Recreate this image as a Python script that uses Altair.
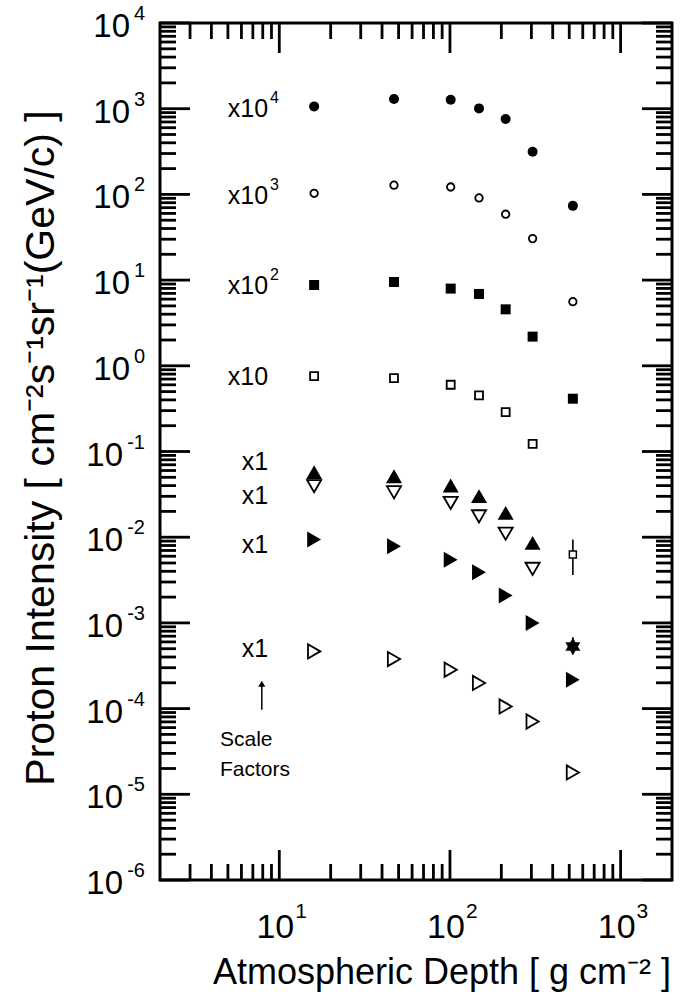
import altair as alt
import pandas as pd

# ---------------- data ----------------
depth = [16.0, 47.0, 101, 148, 212, 305, 525]

circ_filled = [1064, 1295, 1270, 1008, 757, 314, 73.5]          # x10^4
circ_open = [103, 128, 122, 91, 58.7, 30.5, 5.6]                # x10^3
sq_filled = [8.77, 9.5, 7.96, 6.89, 4.56, 2.19, 0.413]          # x10^2
sq_open = [0.759, 0.718, 0.601, 0.451, 0.288, 0.123]            # x10
tri_up_filled = [0.0573, 0.0515, 0.0401, 0.0301, 0.0192, 0.00857]
tri_down_open = [0.0394, 0.0335, 0.0251, 0.0175, 0.0110, 0.00427]
tri_right_filled = [0.00938, 0.00783, 0.00547, 0.00389, 0.00209, 0.000998, 0.000217]
tri_right_open = [0.000465, 0.000379, 0.000284, 0.000199, 0.000106, 7.07e-5, 1.8e-5]

extra_depth = [525]
extra_sq = [0.00627]
extra_sq_lo = [0.00363]
extra_sq_hi = [0.00938]
star_val = [0.00053]
star_lo = [0.00043]
star_hi = [0.00068]

# scale-factor annotations
sf_text = ["x10", "x10", "x10", "x10", "x1", "x1", "x1", "x1"]
sf_exp = ["4", "3", "2", "", "", "", "", ""]
sf_y = [1000, 95, 8.5, 0.75, 0.076, 0.030, 0.0082, 0.00049]
sf_x = 8.6
arrow_x = [7.9]
arrow_y0 = [9.7e-5]
arrow_y1 = [1.95e-4]
note_text = ["Scale", "Factors"]
note_y = [4.3e-5, 1.93e-5]
note_x = 4.49

# axis tick values / labels
y_lab_val = [1e4, 1e3, 1e2, 1e1, 1e0, 1e-1, 1e-2, 1e-3, 1e-4, 1e-5, 1e-6]
y_lab_exp = ["4", "3", "2", "1", "0", "-1", "-2", "-3", "-4", "-5", "-6"]
x_lab_val = [10, 100, 1000]
x_lab_exp = ["1", "2", "3"]
y_minor = [m * 10.0 ** e for e in range(-6, 4) for m in range(2, 10)]
x_minor = [m * 10.0 ** e for e in range(0, 3) for m in range(2, 10) if 2 < m * 10.0 ** e < 2000]

W, H = 512, 857
FONT = "Liberation Sans"
MAJ, MIN = 30, 16
TW = 2.8

xs = alt.Scale(type="log", domain=[2, 2000])
ys = alt.Scale(type="log", domain=[1e-6, 1e4])


def X(f="x"):
    return alt.X(f"{f}:Q", scale=xs, axis=None)


def Y(f="y"):
    return alt.Y(f"{f}:Q", scale=ys, axis=None)


def series(xv, yv, shape, filled, size, sw=1.8):
    df = pd.DataFrame({"x": xv[: len(yv)], "y": yv})
    if filled:
        m = alt.Chart(df).mark_point(shape=shape, filled=True, fill="black",
                                     size=size, opacity=1, strokeWidth=0)
    else:
        m = alt.Chart(df).mark_point(shape=shape, filled=False, stroke="black",
                                     fill="white", fillOpacity=1,
                                     size=size, opacity=1, strokeWidth=sw)
    return m.encode(x=X(), y=Y())


layers = []

# ticks (inward, on all four sides)
ymaj = pd.DataFrame({"y": y_lab_val})
ymin = pd.DataFrame({"y": y_minor})
xmaj = pd.DataFrame({"x": x_lab_val})
xmin = pd.DataFrame({"x": x_minor})
for df, L in ((ymaj, MAJ), (ymin, MIN)):
    layers.append(alt.Chart(df).mark_rule(color="black", strokeWidth=TW)
                  .encode(y=Y(), x=alt.value(0), x2=alt.value(L)))
    layers.append(alt.Chart(df).mark_rule(color="black", strokeWidth=TW)
                  .encode(y=Y(), x=alt.value(W - L), x2=alt.value(W)))
for df, L in ((xmaj, MAJ), (xmin, MIN)):
    layers.append(alt.Chart(df).mark_rule(color="black", strokeWidth=TW)
                  .encode(x=X(), y=alt.value(H), y2=alt.value(H - L)))
    layers.append(alt.Chart(df).mark_rule(color="black", strokeWidth=TW)
                  .encode(x=X(), y=alt.value(0), y2=alt.value(L)))

# y tick labels: "10" + superscript exponent
ylab = pd.DataFrame({"y": y_lab_val, "e": y_lab_exp})
layers.append(alt.Chart(ylab).mark_text(align="right", baseline="middle", fontSize=20,
                                        font=FONT, dy=-9)
              .encode(y=Y(), x=alt.value(-15), text="e:N"))
layers.append(alt.Chart(ylab).transform_filter("length(datum.e) == 1")
              .mark_text(align="right", baseline="middle", fontSize=33, font=FONT, dy=4)
              .encode(y=Y(), x=alt.value(-30), text=alt.value("10")))
layers.append(alt.Chart(ylab).transform_filter("length(datum.e) == 2")
              .mark_text(align="right", baseline="middle", fontSize=33, font=FONT, dy=4)
              .encode(y=Y(), x=alt.value(-37), text=alt.value("10")))

# x tick labels
xlab = pd.DataFrame({"x": x_lab_val, "e": x_lab_exp})
layers.append(alt.Chart(xlab).mark_text(align="center", baseline="alphabetic", fontSize=34,
                                        font=FONT, dx=-4)
              .encode(x=X(), y=alt.value(H + 58), text=alt.value("10")))
layers.append(alt.Chart(xlab).mark_text(align="left", baseline="alphabetic", fontSize=21,
                                        font=FONT, dx=16)
              .encode(x=X(), y=alt.value(H + 38), text="e:N"))

# axis titles
layers.append(alt.Chart(pd.DataFrame({"t": ["Atmospheric  Depth [ g cm\u207b\u00b2 ]"]}))
              .mark_text(align="center", baseline="alphabetic", fontSize=36, font=FONT)
              .encode(x=alt.value(W / 2 + 26), y=alt.value(H + 104), text="t:N"))
layers.append(alt.Chart(pd.DataFrame({"t": ["Proton  Intensity  [ cm\u207b\u00b2s\u207b\u00b9sr\u207b\u00b9(GeV/c) ]"]}))
              .mark_text(align="center", baseline="alphabetic", fontSize=41, font=FONT, angle=270)
              .encode(x=alt.value(-106), y=alt.value(425), text="t:N"))

# data series
layers.append(series(depth, circ_filled, "circle", True, 100))
layers.append(series(depth, circ_open, "circle", False, 56))
layers.append(series(depth, sq_filled, "square", True, 100))
layers.append(series(depth, sq_open, "square", False, 64))
layers.append(series(depth, tri_up_filled, "triangle-up", True, 256))
layers.append(series(depth, tri_down_open, "triangle-down", False, 200))
layers.append(series(depth, tri_right_filled, "triangle-right", True, 256))
layers.append(series(depth, tri_right_open, "triangle-right", False, 200))

# extra points at the deepest level with error bars
eb = pd.DataFrame({"x": extra_depth * 2, "lo": extra_sq_lo + star_lo, "hi": extra_sq_hi + star_hi})
layers.append(alt.Chart(eb).mark_rule(color="black", strokeWidth=1.6)
              .encode(x=X(), y=Y("lo"), y2="hi:Q"))
layers.append(series(extra_depth, extra_sq, "square", False, 49, sw=1.5))
hexagram = "M0,-1L0.866,0.5L-0.866,0.5Z M0,1L-0.866,-0.5L0.866,-0.5Z"
layers.append(series(extra_depth, star_val, hexagram, True, 300))

# scale factor labels
sfl = pd.DataFrame({"x": [sf_x] * len(sf_text), "y": sf_y, "t": sf_text, "e": sf_exp})
layers.append(alt.Chart(sfl).mark_text(align="right", baseline="middle", fontSize=25, font=FONT)
              .encode(x=X(), y=Y(), text="t:N"))
layers.append(alt.Chart(sfl).mark_text(align="left", baseline="middle", fontSize=16, font=FONT,
                                       dx=2, dy=-11)
              .encode(x=X(), y=Y(), text="e:N"))

# arrow + note
arr = pd.DataFrame({"x": arrow_x, "y0": arrow_y0, "y1": arrow_y1})
layers.append(alt.Chart(arr).mark_rule(color="black", strokeWidth=1.5)
              .encode(x=X(), y=Y("y0"), y2="y1:Q"))
layers.append(alt.Chart(arr).mark_point(shape="triangle-up", filled=True, fill="black",
                                        size=50, opacity=1, strokeWidth=0)
              .encode(x=X(), y=Y("y1")))
notes = pd.DataFrame({"x": [note_x] * 2, "y": note_y, "t": note_text})
layers.append(alt.Chart(notes).mark_text(align="left", baseline="middle", fontSize=21, font=FONT)
              .encode(x=X(), y=Y(), text="t:N"))

chart = alt.layer(*layers).properties(
    width=W, height=H,
    autosize=alt.AutoSizeParams(type="none"),
    padding={"left": 160, "top": 23, "right": 9, "bottom": 124},
    background="white",
).configure_view(stroke="black", strokeWidth=3)

chart.save("out.html", embed_options={"renderer": "svg", "actions": False})
